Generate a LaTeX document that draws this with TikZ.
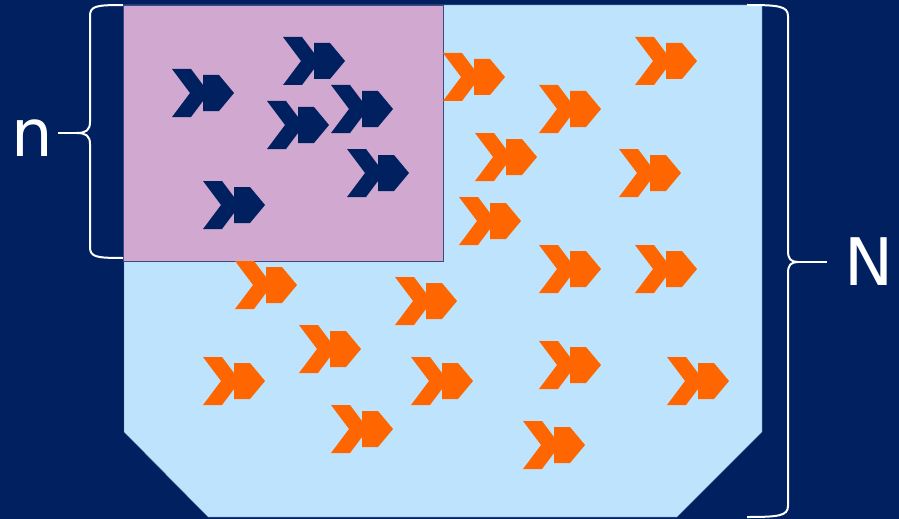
\documentclass[tikz,border=0pt]{standalone}
\usepackage{fontspec}
\setmainfont{DejaVu Sans}
\usetikzlibrary{positioning}
\definecolor{navy}{RGB}{0,32,96}
\definecolor{skyfill}{RGB}{190,228,253}
\definecolor{lilac}{RGB}{208,168,208}
\definecolor{chevorange}{RGB}{255,102,0}
\tikzset{
  chev/.pic={
    \fill (0,0) -- (19,0) -- (37,24) -- (19,48) -- (0,48) -- (18,24) -- cycle;
    \fill (31,6) -- (47,6) -- (62,24) -- (47,42) -- (31,42) -- cycle;
  },
  brc/.style={draw=white,line width=0.6mm},
  lab/.style={text=white,inner sep=0pt,font=\fontsize{56}{60}\selectfont}
}
\begin{document}
\begin{tikzpicture}[x=0.3mm,y=-0.3mm]
\fill[navy] (0,0) rectangle (899,519);
\useasboundingbox (0,0) rectangle (899,519);
% population
\filldraw[fill=skyfill,draw=navy!60!skyfill,line width=0.3pt]
  (124,5) -- (762,5) -- (762,432) -- (677,517) -- (208,517) -- (124,432) -- cycle;
% sample
\filldraw[fill=lilac,draw=navy!70!lilac,line width=0.4pt] (123,5) rectangle (443,261);
\foreach \x/\y in {443/53,635/37,539/85,475/133,619/149,459/197,539/245,635/245,
                   235/261,395/277,299/325,203/357,411/357,331/405,539/341,667/357,523/421}
  \pic[color=chevorange] at (\x,\y) {chev};
\foreach \x/\y in {172/69,283/37,267/101,331/85,347/149,203/181}
  \pic[color=navy] at (\x,\y) {chev};
% braces
\coordinate (tipL) at (77,133);
\coordinate (tickL) at (58,133);
\coordinate (tipR) at (798,262);
\coordinate (tickR) at (827,262);
\draw[brc] (123,5) .. controls (96,5) and (90,6) .. (90,16) -- (90,122)
  .. controls (90,130) and (86,133) .. (tipL)
  .. controls (86,133) and (90,136) .. (90,144) -- (90,247)
  .. controls (90,257) and (96,258) .. (123,258);
\draw[brc] (tipL) -- (tickL);
\draw[brc] (747,5) .. controls (778,5) and (788,6) .. (788,16) -- (788,251)
  .. controls (788,259) and (791,262) .. (tipR)
  .. controls (791,262) and (788,265) .. (788,273) -- (788,506)
  .. controls (788,516) and (778,517) .. (747,517);
\draw[brc] (tipR) -- (tickR);
\node[lab] (nlab) at (32,138) {n};
\node[lab] (Nlab) at (869,262) {N};
\end{tikzpicture}
\end{document}
